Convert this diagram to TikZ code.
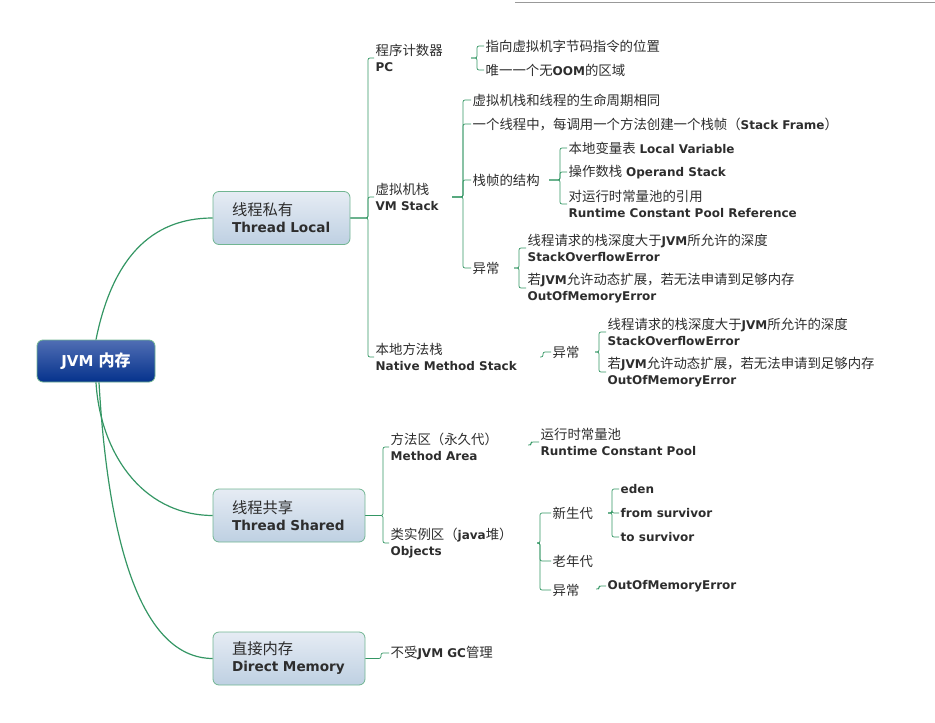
\documentclass[tikz,border=0pt]{standalone}
\usepackage{fontspec}
\setmainfont{DejaVu Sans}
\newfontfamily\cjk{Noto Sans CJK SC}
\definecolor{brGreen}{RGB}{52,150,100}
\definecolor{txtGray}{RGB}{45,45,45}
\definecolor{boxTop}{RGB}{230,236,244}
\definecolor{boxBot}{RGB}{190,208,226}
\definecolor{rootTop}{RGB}{80,110,180}
\definecolor{rootBot}{RGB}{5,50,140}
\newcommand\zh[1]{{\cjk\fontsize{13.4}{16}\selectfont #1}}
\newcommand\en[1]{\textbf{#1}}
\tikzset{
  leaf/.style = {anchor = west, inner sep = 1.5pt, align = left, text = txtGray,
                 font = \fontsize{12}{16}\selectfont},
  branch/.style = {rounded corners = 6pt, draw = brGreen!70, line width = 0.8pt,
                   top color = boxTop, bottom color = boxBot,
                   minimum width = 137pt, minimum height = 53pt, text width = 99pt,
                   align = left, text = txtGray, font = \fontsize{13.6}{17}\selectfont},
  rootbox/.style = {rounded corners = 6pt, draw = brGreen!70, line width = 0.8pt,
                    top color = rootTop, bottom color = rootBot,
                    minimum width = 118pt, minimum height = 42pt, text = white,
                    font = \bfseries\fontsize{15}{17}\selectfont},
  curve/.style = {draw = brGreen, line width = 1.2pt},
  br/.style = {draw = brGreen, line width = 0.7pt, rounded corners = 2pt}
}
\newcommand\boxzh[1]{{\cjk\fontsize{15.3}{17}\selectfont #1}}
\begin{document}
\begin{tikzpicture}[x = 1pt, y = -1pt]
\useasboundingbox (0,0) rectangle (935,723);
\draw[gray!80, line width = 0.5pt] (515,2) -- (935,2);
% main boxes
\node[rootbox] (jvm) at (96,361) {JVM {\cjk\fontsize{16}{17}\selectfont 内存}};
\node[branch] (tl) at (281.5,218) {\boxzh{线程私有}\\\textbf{Thread Local}};
\node[branch, minimum width = 152pt, text width = 114pt] (ts) at (289,515.5) {\boxzh{线程共享}\\\textbf{Thread Shared}};
\node[branch, minimum width = 152pt, text width = 114pt] (dm) at (289,658.5) {\boxzh{直接内存}\\\textbf{Direct Memory}};
\draw[curve] (jvm.north) .. controls (112,260) and (150,218) .. (tl.west);
\draw[curve] (jvm.south) .. controls (100,450) and (140,515) .. (ts.west);
\draw[curve] ([xshift=3pt]jvm.south) .. controls (108,540) and (140,658) .. (dm.west);
% thread local
\node[leaf] (pc) at (374,58) {\zh{程序计数器}\\\en{PC}};
\node[leaf] (vms) at (374,197) {\zh{虚拟机栈}\\\en{VM Stack}};
\node[leaf] (nms) at (374,357) {\zh{本地方法栈}\\\en{Native Method Stack}};
\foreach \c in {pc, vms, nms} \draw[br] (tl.east) -- (368,218) |- (\c.west);
\node[leaf] (pc1) at (484,46) {\zh{指向虚拟机字节码指令的位置}};
\node[leaf] (pc2) at (484,70) {\zh{唯一一个无}\en{OOM}\zh{的区域}};
\foreach \c in {pc1, pc2} \draw[br] (pc.east -| 471,0) -- (477,58) |- (\c.west);
\node[leaf] (vm1) at (471,100) {\zh{虚拟机栈和线程的生命周期相同}};
\node[leaf] (vm2) at (471,124) {\zh{一个线程中，每调用一个方法创建一个栈帧（}\en{Stack Frame}\zh{）}};
\node[leaf] (vm3) at (471,180) {\zh{栈帧的结构}};
\node[leaf] (vm4) at (471,268) {\zh{异常}};
\foreach \c in {vm1, vm2, vm3, vm4} \draw[br] (vms.east -| 452,0) -- (463,197) |- (\c.west);
\node[leaf] (sf1) at (567,148) {\zh{本地变量表} \en{Local Variable}};
\node[leaf] (sf2) at (567,172) {\zh{操作数栈} \en{Operand Stack}};
\node[leaf] (sf3) at (567,204) {\zh{对运行时常量池的引用}\\\en{Runtime Constant Pool Reference}};
\foreach \c in {sf1, sf2, sf3} \draw[br] (vm3.east -| 549,0) -- (560,180) |- (\c.west);
\node[leaf] (ex1) at (526,248) {\zh{线程请求的栈深度大于}\en{JVM}\zh{所允许的深度}\\\en{StackOverflowError}};
\node[leaf] (ex2) at (526,288) {\zh{若}\en{JVM}\zh{允许动态扩展，若无法申请到足够内存}\\\en{OutOfMemoryError}};
\foreach \c in {ex1, ex2} \draw[br] (vm4.east -| 514,0) -- (519,268) |- (\c.west);
\node[leaf] (nex) at (551,352) {\zh{异常}};
\draw[br] (nms.east -| 540,0) -- (543,357) |- (nex.west);
\node[leaf] (nx1) at (606,332) {\zh{线程请求的栈深度大于}\en{JVM}\zh{所允许的深度}\\\en{StackOverflowError}};
\node[leaf] (nx2) at (606,372) {\zh{若}\en{JVM}\zh{允许动态扩展，若无法申请到足够内存}\\\en{OutOfMemoryError}};
\foreach \c in {nx1, nx2} \draw[br] (nex.east -| 595,0) -- (599,352) |- (\c.west);
% thread shared
\node[leaf] (ma) at (389,447) {\zh{方法区（永久代）}\\\en{Method Area}};
\node[leaf] (obj) at (389,543) {\zh{类实例区（}\en{java}\zh{堆）}\\\en{Objects}};
\foreach \c in {ma, obj} \draw[br] (ts.east) -- (383,515.5) |- (\c.west);
\node[leaf] (rcp) at (539,442) {\zh{运行时常量池}\\\en{Runtime Constant Pool}};
\draw[br] (rcp.west -| 528,0) ++(0,3) -- (531,445) |- (rcp.west);
\node[leaf] (yg) at (551,513) {\zh{新生代}};
\node[leaf] (og) at (551,561) {\zh{老年代}};
\node[leaf] (oex) at (551,590) {\zh{异常}};
\foreach \c in {yg, og, oex} \draw[br] (obj.east -| 537,0) -- (540,543) |- (\c.west);
\node[leaf] (ed) at (619,489) {\en{eden}};
\node[leaf] (fs) at (619,513) {\en{from survivor}};
\node[leaf] (ts2) at (619,537) {\en{to survivor}};
\foreach \c in {ed, fs, ts2} \draw[br] (yg.east -| 608,0) -- (612,513) |- (\c.west);
\node[leaf] (oom) at (606,586) {\en{OutOfMemoryError}};
\draw[br] (oex.east -| 596,0) ++(0,-1) -- (599,589) |- (oom.west);
% direct memory
\node[leaf] (gc) at (389,653) {\zh{不受}\en{JVM GC}\zh{管理}};
\draw[br] (dm.east) -- (381,658.5) |- (gc.west);
\end{tikzpicture}
\end{document}
